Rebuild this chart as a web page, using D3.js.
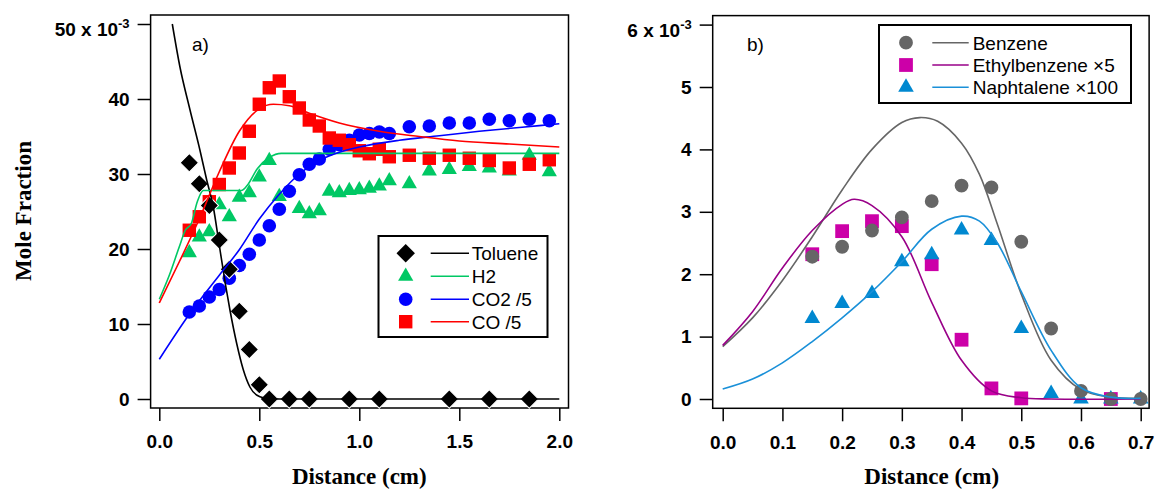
<!DOCTYPE html>
<html>
<head>
<meta charset="utf-8">
<script src="https://cdn.jsdelivr.net/npm/d3@7"></script>
<style>
  body { margin: 0; background: #fff; }
  svg { display: block; }
  .tick text { font-family: "Liberation Sans", Arial, sans-serif; font-weight: bold; font-size: 19px; fill: #000; }
  .tick line { stroke: #000; stroke-width: 1.5; }
</style>
</head>
<body>
<div id="chart"></div>
<script>
// ---- panel a) : measured points (x in cm, y in 1e-3 mole fraction)
var xA = [0.15, 0.2, 0.25, 0.3, 0.35, 0.4, 0.45, 0.5, 0.55, 0.6, 0.65, 0.7, 0.75, 0.8, 0.85, 0.9, 0.95, 1.0, 1.05, 1.1, 1.15, 1.25, 1.35, 1.45, 1.55, 1.65, 1.75, 1.85, 1.95]
var tolueneX = [0.15, 0.2, 0.25, 0.3, 0.35, 0.4, 0.45, 0.5, 0.55, 0.65, 0.75, 0.95, 1.1, 1.45, 1.65, 1.85]
var tolueneY = [31.5, 28.7, 25.8, 21.2, 17.3, 11.7, 6.6, 1.9, 0, 0, 0, 0, 0, 0, 0, 0]
var h2X = [0.15, 0.2, 0.25, 0.3, 0.35, 0.4, 0.45, 0.5, 0.55, 0.6, 0.7, 0.75, 0.8, 0.85, 0.9, 0.95, 1.0, 1.05, 1.1, 1.15, 1.25, 1.35, 1.45, 1.55, 1.65, 1.75, 1.85, 1.95]
var h2Y = [19.5, 21.6, 22.3, 25.9, 24.3, 26.9, 27.5, 29.6, 31.8, 27.0, 25.4, 24.7, 25.1, 27.7, 27.5, 27.8, 27.9, 28.1, 28.4, 29.1, 28.7, 30.4, 30.6, 31.0, 30.8, 30.4, 32.5, 30.3]
var co2Y = [11.6, 12.4, 13.6, 14.6, 16.1, 17.8, 19.3, 21.2, 23.1, 25.3, 27.7, 29.9, 31.3, 32.0, 33.3, 33.9, 34.5, 35.2, 35.4, 35.6, 35.4, 36.3, 36.4, 36.8, 36.8, 37.3, 37.1, 37.3, 37.1]
var coY = [22.5, 24.3, 26.3, 28.6, 30.8, 32.8, 35.7, 39.3, 41.5, 42.4, 40.3, 38.8, 37.2, 36.4, 34.8, 34.5, 33.9, 33.1, 32.7, 33.3, 32.3, 32.5, 32.1, 32.5, 32.1, 31.8, 30.8, 31.3, 31.9]

// ---- panel a) : model curves
var tolueneFitX = [0.065, 0.103, 0.153, 0.203, 0.237, 0.27, 0.3, 0.33, 0.353, 0.387, 0.42, 0.453, 0.503, 0.55, 0.6, 1.0, 2.0]
var tolueneFitY = [50, 44.3, 38.6, 33.2, 29.2, 25.6, 20.5, 15.4, 11.9, 7.4, 3.9, 1.6, 0.3, 0.05, 0, 0, 0]
var h2FitX = [0, 0.05, 0.1, 0.13, 0.16, 0.19, 0.22, 0.41, 0.44, 0.49, 0.55, 0.61, 2.0]
var h2FitY = [13.3, 16.5, 20.3, 22.5, 23.4, 26.3, 27.8, 27.8, 28.5, 30.7, 32.2, 32.75, 32.75]
var co2FitX = [0, 0.15, 0.3, 0.4, 0.5, 0.6, 0.7, 0.8, 0.9, 1.0, 1.2, 1.4, 1.6, 1.8, 2.0]
var co2FitY = [5.3, 11.3, 16.5, 19.9, 24.0, 27.3, 30.0, 31.8, 32.9, 33.6, 34.5, 35.1, 35.7, 36.2, 36.7]
var coFitX = [0, 0.1, 0.2, 0.3, 0.4, 0.5, 0.57, 0.65, 0.75, 0.9, 1.1, 1.3, 1.5, 1.75, 2.0]
var coFitY = [12.8, 18.3, 24.0, 30.3, 35.7, 38.7, 39.3, 39.1, 38.1, 36.8, 35.7, 35.0, 34.4, 34.0, 33.6]

// ---- panel b) : measured points (y in 1e-3)
var xB = [0.15, 0.2, 0.25, 0.3, 0.35, 0.4, 0.45, 0.5, 0.55, 0.6, 0.65, 0.7]
var benzeneY = [2.28, 2.44, 2.70, 2.91, 3.17, 3.42, 3.39, 2.52, 1.13, 0.13, 0.0, 0.0]
var ethylX = [0.15, 0.2, 0.25, 0.3, 0.35, 0.4, 0.45, 0.5, 0.65]
var ethylY = [2.32, 2.69, 2.85, 2.77, 2.16, 0.95, 0.17, 0.01, 0.0]
var naphY = [1.29, 1.53, 1.69, 2.2, 2.31, 2.71, 2.54, 1.13, 0.09, 0.0, 0.0, 0.0]

// ---- panel b) : model curves
var benzeneFitX = [0, 0.05, 0.1, 0.15, 0.2, 0.25, 0.3, 0.33, 0.36, 0.4, 0.43, 0.46, 0.5, 0.55, 0.6, 0.65, 0.7]
var benzeneFitY = [0.84, 1.3, 1.9, 2.6, 3.35, 4.0, 4.43, 4.51, 4.45, 4.1, 3.6, 2.8, 1.68, 0.62, 0.15, 0.03, 0.01]
var ethylFitX = [0, 0.05, 0.1, 0.15, 0.2, 0.22, 0.25, 0.3, 0.35, 0.4, 0.45, 0.5, 0.55, 0.7]
var ethylFitY = [0.86, 1.4, 2.1, 2.7, 3.12, 3.2, 3.1, 2.6, 1.55, 0.62, 0.13, 0.02, 0.0, 0.0]
var naphFitX = [0, 0.05, 0.1, 0.15, 0.2, 0.25, 0.3, 0.35, 0.4, 0.43, 0.46, 0.5, 0.55, 0.6, 0.65, 0.7]
var naphFitY = [0.16, 0.32, 0.58, 0.92, 1.3, 1.72, 2.2, 2.72, 2.93, 2.85, 2.5, 1.72, 0.78, 0.18, 0.03, 0.01]

var ticksAX = [0, 0.5, 1.0, 1.5, 2.0]
var ticksAY = [0, 10, 20, 30, 40, 50]
var ticksBX = [0, 0.1, 0.2, 0.3, 0.4, 0.5, 0.6, 0.7]
var ticksBY = [0, 1, 2, 3, 4, 5, 6]

var svg = d3.select("#chart").append("svg")
    .attr("width", 1158)
    .attr("height", 494)

var green = "#00c864"

function zip(xs, ys) { return xs.map((x, i) => [x, ys[i]]) }

function panel(opt) {
    var x = opt.x, y = opt.y
    var g = svg.append("g")

    // frame
    g.append("rect")
        .attr("x", x(opt.xFrame[0])).attr("y", y(opt.yFrame[1]))
        .attr("width", x(opt.xFrame[1]) - x(opt.xFrame[0]))
        .attr("height", y(opt.yFrame[0]) - y(opt.yFrame[1]))
        .attr("fill", "none").attr("stroke", "#000").attr("stroke-width", 1.5)

    var ax = g.append("g")
        .attr("transform", `translate(0,${y(opt.yFrame[0])})`)
        .call(d3.axisBottom(x).tickValues(opt.xTicks).tickSize(13).tickPadding(14).tickFormat(d3.format(".1f")))
    ax.select(".domain").remove()

    var ay = g.append("g")
        .attr("transform", `translate(${x(opt.xFrame[0])},0)`)
        .call(d3.axisLeft(y).tickValues(opt.yTicks).tickSize(13).tickPadding(8).tickFormat(d3.format("d")))
    ay.select(".domain").remove()
    var top = opt.yTicks[opt.yTicks.length - 1]
    ay.selectAll(".tick text").filter(d => d === top)
        .attr("dy", "0.62em")
        .text(top + " x 10")
        .append("tspan").attr("dy", "-0.6em").attr("font-size", "13px").text("-3")

    g.append("text")
        .attr("x", (x.range()[0] + x.range()[1]) / 2).attr("y", 484)
        .attr("text-anchor", "middle")
        .style("font-family", "'Liberation Serif', 'Times New Roman', serif")
        .style("font-weight", "bold").style("font-size", "23px")
        .text("Distance (cm)")

    g.append("text")
        .attr("x", opt.tagX).attr("y", 51)
        .style("font-family", "'Liberation Sans', Arial, sans-serif")
        .style("font-size", "19px")
        .text(opt.tag)
    return g
}

function markers(g, pts, sym, size, color, rot, stroke) {
    g.append("g").selectAll("path")
        .data(pts)
        .enter()
        .append("path")
        .attr("d", d3.symbol().type(sym).size(size))
        .attr("transform", (d) => `translate(${d[0]},${d[1]}) rotate(${rot || 0})`)
        .attr("fill", color)
        .attr("stroke", stroke || "none")
        .attr("stroke-width", stroke ? 1 : 0)
}

function curve(g, pts, color, kind) {
    g.append("path")
        .datum(pts)
        .attr("d", d3.line().curve(kind || d3.curveMonotoneX))
        .attr("fill", "none")
        .attr("stroke", color)
        .attr("stroke-width", 1.6)
}

function legend(g, box, rows, x0, lineX, textX) {
    g.append("rect")
        .attr("x", box[0]).attr("y", box[1]).attr("width", box[2]).attr("height", box[3])
        .attr("fill", "#fff").attr("stroke", "#000").attr("stroke-width", 2)
    rows.forEach((r) => {
        markers(g, [[x0, r.y]], r.sym, r.size, r.color, r.rot)
        g.append("line")
            .attr("x1", lineX[0]).attr("x2", lineX[1]).attr("y1", r.y).attr("y2", r.y)
            .attr("stroke", r.line).attr("stroke-width", 1.6)
        g.append("text")
            .attr("x", textX).attr("y", r.y + 7)
            .style("font-family", "'Liberation Sans', Arial, sans-serif")
            .style("font-size", "19px")
            .text(r.label)
    })
}

// ---------- panel a
var xa = d3.scaleLinear().domain([0, 2]).range([159.3, 559.3])
var ya = d3.scaleLinear().domain([0, 50]).range([399, 24])
var ga = panel({ x: xa, y: ya, xFrame: [-0.0435, 2.046], yFrame: [-1.2, 51.2], xTicks: ticksAX, yTicks: ticksAY, tag: "a)", tagX: 192 })

var P = (xs, ys) => zip(xs, ys).map((d) => [xa(d[0]), ya(d[1])])
markers(ga, P(h2X, h2Y), d3.symbolTriangle, 100, green)
markers(ga, P(xA, co2Y), d3.symbolCircle, 145, "#0000ff")
markers(ga, P(xA, coY), d3.symbolSquare, 180, "#ff0000")
markers(ga, P(tolueneX, tolueneY), d3.symbolSquare, 170, "#000", 45, "#fff")
curve(ga, P(tolueneFitX, tolueneFitY), "#000")
curve(ga, P(h2FitX, h2FitY), green)
curve(ga, P(co2FitX, co2FitY), "#0000ff")
curve(ga, P(coFitX, coFitY), "#ff0000")

legend(ga, [378.5, 236, 169, 101], [
    { y: 253.3, sym: d3.symbolSquare, size: 170, rot: 45, color: "#000", line: "#000", label: "Toluene" },
    { y: 276.3, sym: d3.symbolTriangle, size: 100, color: green, line: green, label: "H2" },
    { y: 299.3, sym: d3.symbolCircle, size: 145, color: "#0000ff", line: "#0000ff", label: "CO2 /5" },
    { y: 321.7, sym: d3.symbolSquare, size: 180, color: "#ff0000", line: "#ff0000", label: "CO /5" }
], 405.7, [430.7, 469], 471.7)

svg.append("text")
    .attr("transform", "translate(30.5,211) rotate(-90)")
    .attr("text-anchor", "middle")
    .style("font-family", "'Liberation Serif', 'Times New Roman', serif")
    .style("font-weight", "bold").style("font-size", "23px")
    .text("Mole Fraction")

// ---------- panel b
var xb = d3.scaleLinear().domain([0, 0.7]).range([722.7, 1140.7])
var yb = d3.scaleLinear().domain([0, 6]).range([399, 24.6])
var gb = panel({ x: xb, y: yb, xFrame: [-0.01675, 0.7141], yFrame: [-0.149, 6.144], xTicks: ticksBX, yTicks: ticksBY, tag: "b)", tagX: 747 })

var Q = (xs, ys) => zip(xs, ys).map((d) => [xb(d[0]), yb(d[1])])
var smooth = d3.curveCatmullRom.alpha(0.5)
markers(gb, Q(ethylX, ethylY), d3.symbolSquare, 190, "#cc00a8")
markers(gb, Q(xB, naphY), d3.symbolTriangle, 105, "#0088d0")
markers(gb, Q(xB, benzeneY), d3.symbolCircle, 150, "#666666")
curve(gb, Q(benzeneFitX, benzeneFitY), "#666666", smooth)
curve(gb, Q(ethylFitX, ethylFitY), "#990088", smooth)
curve(gb, Q(naphFitX, naphFitY), "#1a90d8", smooth)

legend(gb, [879, 25, 252, 78], [
    { y: 42.7, sym: d3.symbolCircle, size: 150, color: "#666666", line: "#666666", label: "Benzene" },
    { y: 65, sym: d3.symbolSquare, size: 190, color: "#cc00a8", line: "#990088", label: "Ethylbenzene \u00d75" },
    { y: 87.3, sym: d3.symbolTriangle, size: 105, color: "#0088d0", line: "#1a90d8", label: "Naphtalene \u00d7100" }
], 906, [932.3, 968.7], 972.7)
</script>
</body>
</html>
